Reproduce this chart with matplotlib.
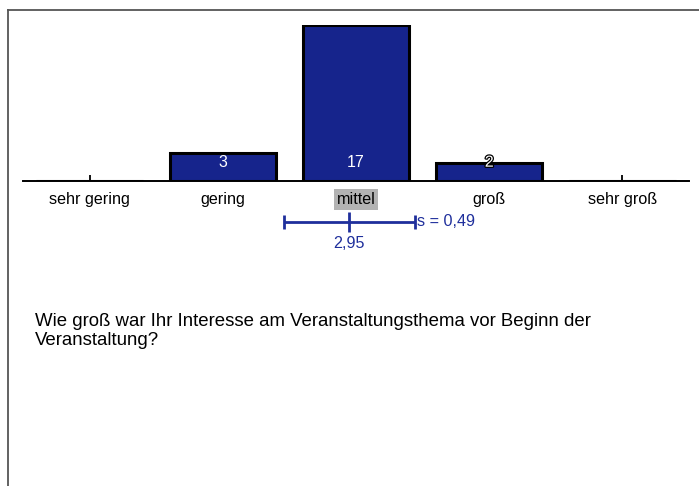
import matplotlib
matplotlib.use('Agg')
import matplotlib.pyplot as plt
import matplotlib.patheffects as pe
from matplotlib.lines import Line2D

plt.rcParams['font.family'] = ['Liberation Sans', 'DejaVu Sans']

# data
categories = ['sehr gering', 'gering', 'mittel', 'groß', 'sehr groß']
counts = [0, 3, 17, 2, 0]
mean_value = 2.95      # on the 1..5 scale
std_value = 0.49
question = 'Wie groß war Ihr Interesse am Veranstaltungsthema vor Beginn der\nVeranstaltung?'

W, H = 699, 486
fig = plt.figure(figsize=(W / 100, H / 100), dpi=100)

# axes: x -0.5..4.5 -> px 23..689, y 0..17 -> px 181..25 (from top)
ax = fig.add_axes([23 / W, (H - 181) / H, 666 / W, 156 / H])
ax.set_xlim(-0.5, 4.5)
ax.set_ylim(0, 17)

bar_blue = '#16248c'
mark_blue = '#1f2f9c'
xs = list(range(len(categories)))
bars = ax.bar(xs, counts, width=0.8, color=bar_blue, edgecolor='black',
              linewidth=2.2, zorder=3)

# value labels at fixed height inside the bars
for x, c in zip(xs, counts):
    if c > 0:
        t = ax.text(x, 2.05, str(c), ha='center', va='center', color='white',
                    fontsize=11.5, zorder=5)
        if c < 2.6:
            t.set_path_effects([pe.withStroke(linewidth=1.8, foreground='black')])

for s in ['top', 'left', 'right']:
    ax.spines[s].set_visible(False)
ax.spines['bottom'].set_linewidth(1.4)
ax.spines['bottom'].set_zorder(4)
ax.set_yticks([])
ax.set_xticks(xs)
ax.set_xticklabels(categories, fontsize=11.6)
ax.tick_params(axis='x', direction='in', length=4, width=1.3, pad=8)
ax.get_xticklabels()[2].set_bbox(dict(facecolor='#b3b3b3', edgecolor='none', pad=2))

# mean +/- standard deviation below the axis
ym = -4.45
mx = mean_value - 1
ax.errorbar([mx], [ym], xerr=[std_value], color=mark_blue, linewidth=2.0,
            capsize=5, capthick=2.0, clip_on=False)
ax.plot([mx], [ym], marker='|', markersize=15, markeredgewidth=2.0,
        color=mark_blue, clip_on=False)
ax.text(mx + std_value + 0.02, ym, 's = 0,49', ha='left', va='center',
        color=mark_blue, fontsize=11.6, clip_on=False)
ax.text(mx, ym - 2.35, '2,95', ha='center', va='center', color=mark_blue,
        fontsize=11.6, clip_on=False)

# question text
fig.text(35 / W, (H - 313) / H, question, ha='left', va='top', fontsize=13.4,
         linespacing=1.17)

# frame
fig.add_artist(Line2D([8 / W, 8 / W], [0, (H - 10) / H], color='#555555', lw=1.3))
fig.add_artist(Line2D([8 / W, 1], [(H - 10) / H, (H - 10) / H], color='#555555', lw=1.3))

fig.savefig('out.png', dpi=100)
